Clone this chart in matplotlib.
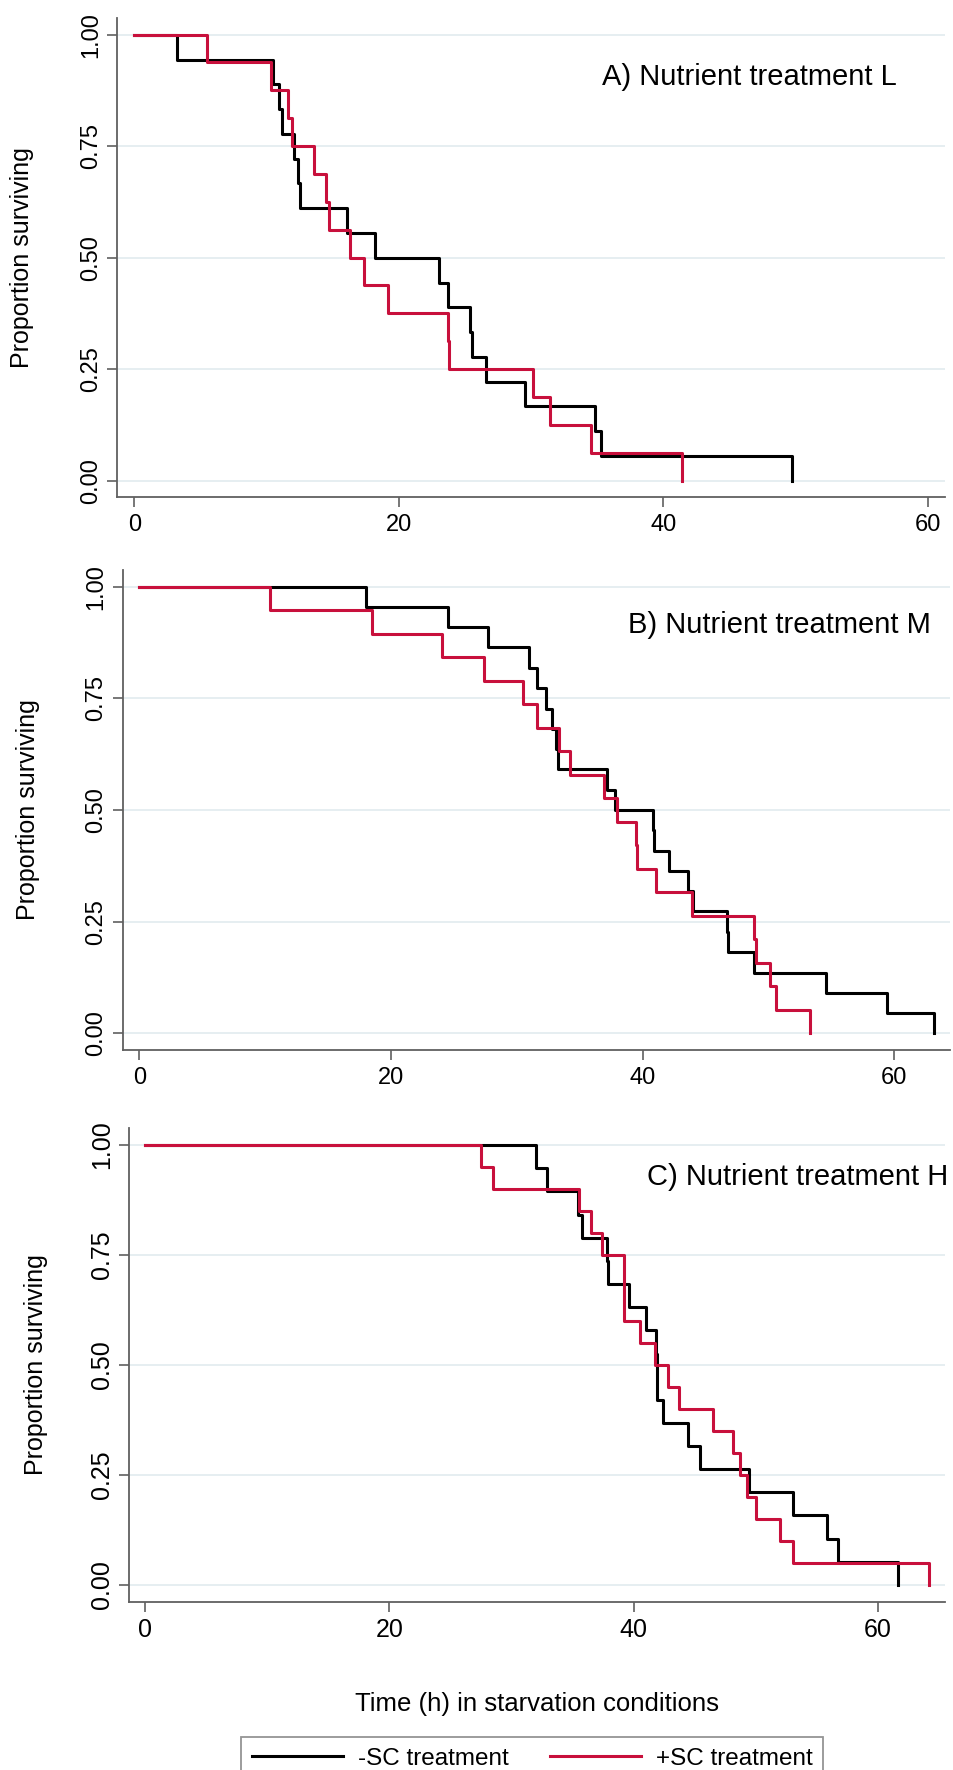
import matplotlib
matplotlib.use("Agg")
import matplotlib.pyplot as plt
from matplotlib.lines import Line2D

plt.rcParams['font.family'] = ['Liberation Sans', 'DejaVu Sans']

# Kaplan-Meier steps (time in h, proportion surviving)
a_minus_t = [0, 3.2, 10.5, 10.9, 11.2, 12.1, 12.4, 12.5, 16.1, 18.2, 23.0, 23.7,
             25.4, 25.5, 26.6, 29.5, 34.8, 35.3, 49.7]
a_minus_s = [1.0, 0.944, 0.889, 0.833, 0.778, 0.722, 0.667, 0.611, 0.556, 0.5, 0.444,
             0.389, 0.333, 0.278, 0.222, 0.167, 0.111, 0.056, 0.0]
a_plus_t = [0, 5.5, 10.3, 11.6, 11.9, 13.6, 14.5, 14.7, 16.3, 17.4, 19.2, 23.7, 23.8,
            30.1, 31.4, 34.5, 41.4]
a_plus_s = [1.0, 0.938, 0.875, 0.813, 0.75, 0.688, 0.625, 0.563, 0.5, 0.438, 0.375,
            0.313, 0.25, 0.188, 0.125, 0.063, 0.0]

b_minus_t = [0, 18.0, 24.5, 27.7, 31.0, 31.6, 32.3, 32.8, 33.1, 33.3, 37.2, 37.8, 40.8,
             40.9, 42.1, 43.6, 44.0, 46.7, 46.8, 48.9, 54.6, 59.4, 63.2]
b_minus_s = [1.0, 0.955, 0.909, 0.864, 0.818, 0.773, 0.727, 0.682, 0.636, 0.591, 0.545,
             0.5, 0.455, 0.409, 0.364, 0.318, 0.273, 0.227, 0.182, 0.136, 0.091, 0.045, 0.0]
b_plus_t = [0, 10.4, 18.5, 24.1, 27.4, 30.5, 31.6, 33.4, 34.2, 36.9, 38.0, 39.5, 39.6,
            41.1, 43.9, 48.9, 49.0, 50.1, 50.6, 53.3]
b_plus_s = [1.0, 0.947, 0.895, 0.842, 0.789, 0.737, 0.684, 0.632, 0.579, 0.526, 0.474,
            0.421, 0.368, 0.316, 0.263, 0.211, 0.158, 0.105, 0.053, 0.0]

c_minus_t = [0, 32.0, 32.9, 35.4, 35.8, 37.8, 37.9, 39.6, 41.0, 41.8, 41.9, 42.4, 44.4,
             45.4, 49.4, 53.0, 55.8, 56.7, 61.6]
c_minus_s = [1.0, 0.947, 0.895, 0.842, 0.789, 0.737, 0.684, 0.632, 0.579, 0.526, 0.421,
             0.368, 0.316, 0.263, 0.211, 0.158, 0.105, 0.053, 0.0]
c_plus_t = [0, 27.5, 28.5, 35.5, 36.5, 37.4, 39.2, 40.5, 41.7, 42.8, 43.7, 46.5, 48.1,
            48.7, 49.3, 50.0, 52.0, 53.0, 64.2]
c_plus_s = [1.0, 0.95, 0.9, 0.85, 0.8, 0.75, 0.6, 0.55, 0.5, 0.45, 0.4, 0.35, 0.3, 0.25,
            0.2, 0.15, 0.1, 0.05, 0.0]

panel_titles = ["A) Nutrient treatment L", "B) Nutrient treatment M", "C) Nutrient treatment H"]
legend_labels = ["-SC treatment", "+SC treatment"]
x_ticks = [0, 20, 40, 60]
y_ticks = [0, 0.25, 0.5, 0.75, 1.0]

BLACK = "#000000"
RED = "#c8103c"
GRID = "#e6eef1"
SPINE = "#606060"

W, H = 954, 1770
fig = plt.figure(figsize=(W / 100, H / 100), dpi=100)
fig.patch.set_facecolor("white")


def px_rect(left, right, top, bottom):
    return [left / W, 1 - bottom / H, (right - left) / W, (bottom - top) / H]


panels = [
    dict(rect=px_rect(117.3, 945, 18.1, 497.3), xlim=(-1.285, 61.28), ylim=(-0.0372, 1.0372),
         curves=[(a_minus_t, a_minus_s), (a_plus_t, a_plus_s)], fs=17,
         title_xy=(601.7, 76.7), ylab_xy=(22.5, 257.7)),
    dict(rect=px_rect(122.7, 950, 569.9, 1050), xlim=(-1.32, 64.44), ylim=(-0.0374, 1.0374),
         curves=[(b_minus_t, b_minus_s), (b_plus_t, b_plus_s)], fs=17,
         title_xy=(627.7, 625), ylab_xy=(28, 810)),
    dict(rect=px_rect(129.3, 945, 1128.3, 1601.7), xlim=(-1.285, 65.47), ylim=(-0.038, 1.038),
         curves=[(c_minus_t, c_minus_s), (c_plus_t, c_plus_s)], fs=18,
         title_xy=(646.7, 1176.7), ylab_xy=(36, 1365)),
]

for p, title in zip(panels, panel_titles):
    ax = fig.add_axes(p["rect"])
    ax.set_xlim(*p["xlim"])
    ax.set_ylim(*p["ylim"])
    for yv in y_ticks:
        ax.axhline(yv, color=GRID, lw=1.4, zorder=0)
    (tm, sm), (tp, sp) = p["curves"]
    ax.step(tm, sm, where="post", color=BLACK, lw=2.2, zorder=3)
    ax.step(tp, sp, where="post", color=RED, lw=2.2, zorder=4)
    ax.set_xticks(x_ticks)
    ax.set_yticks(y_ticks)
    ax.set_yticklabels(["%.2f" % v for v in y_ticks])
    for side in ["top", "right"]:
        ax.spines[side].set_visible(False)
    for side in ["left", "bottom"]:
        ax.spines[side].set_color(SPINE)
        ax.spines[side].set_linewidth(1.3)
    ax.tick_params(axis="both", colors=SPINE, length=7, width=1.2, labelcolor="black",
                   labelsize=p["fs"])
    ax.tick_params(axis="x", pad=5)
    ax.tick_params(axis="y", pad=4, labelrotation=90)
    for lab in ax.get_yticklabels():
        lab.set_va("center")
    fig.text(p["title_xy"][0] / W, 1 - p["title_xy"][1] / H, title, fontsize=21,
             ha="left", va="center")
    fig.text(p["ylab_xy"][0] / W, 1 - p["ylab_xy"][1] / H, "Proportion surviving",
             fontsize=18, rotation=90, ha="center", va="center")

fig.text(536.8 / W, 1 - 1704 / H, "Time (h) in starvation conditions", fontsize=18.5,
         ha="center", va="center")

handles = [Line2D([], [], color=BLACK, lw=2.2), Line2D([], [], color=RED, lw=2.2)]
leg = fig.legend(handles, legend_labels, ncol=2, loc="upper left",
                 bbox_to_anchor=(241 / W, 1 - 1737 / H), borderaxespad=0,
                 fontsize=17.5, frameon=True, fancybox=False, edgecolor="#7a7a7a",
                 handlelength=3.74, handletextpad=0.62, columnspacing=1.69,
                 borderpad=0.45)
leg.get_frame().set_linewidth(1.3)

fig.savefig("out.png", dpi=100, facecolor="white")
